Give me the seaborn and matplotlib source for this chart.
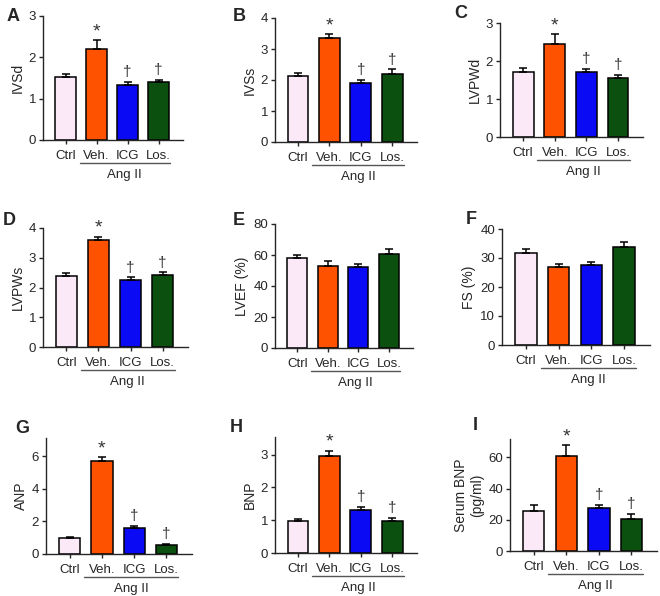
import numpy as np
import pandas as pd
import matplotlib
matplotlib.use("Agg")
import matplotlib.pyplot as plt
import seaborn as sns

###############################################
# data
###############################################
groups = ["Ctrl", "Veh.", "ICG", "Los."]
bar_colors = ["#FCE9F8", "#FF5200", "#0A0AF5", "#0B500E"]

ivsd_mean = [1.52, 2.21, 1.32, 1.40]
ivsd_err = [0.07, 0.20, 0.09, 0.05]

ivss_mean = [2.13, 3.37, 1.90, 2.19]
ivss_err = [0.09, 0.11, 0.10, 0.15]

lvpwd_mean = [1.72, 2.46, 1.72, 1.55]
lvpwd_err = [0.09, 0.24, 0.08, 0.09]

lvpws_mean = [2.39, 3.58, 2.25, 2.43]
lvpws_err = [0.09, 0.13, 0.09, 0.08]

lvef_mean = [57.8, 53.0, 52.2, 60.8]
lvef_err = [2.5, 3.3, 1.7, 2.8]

fs_mean = [31.6, 27.0, 27.6, 33.7]
fs_err = [1.4, 1.0, 0.9, 1.9]

anp_mean = [0.98, 5.72, 1.62, 0.53]
anp_err = [0.08, 0.24, 0.12, 0.08]

bnp_mean = [0.98, 2.95, 1.32, 0.98]
bnp_err = [0.06, 0.17, 0.08, 0.09]

sbnp_mean = [25.5, 60.6, 27.6, 20.8]
sbnp_err = [4.3, 7.3, 1.8, 2.8]

sig_marks = ["", "*", "\u2020", "\u2020"]
no_marks = ["", "", "", ""]

###############################################
# panel setup: (letter, ylabel, mean, err, yticks, ytop, marks, pixel box, letter pos)
# pixel box = x0, x1, ytop_px, ybottom_px in the 660x596 canvas
###############################################
panels = [
    ("A", "IVSd", ivsd_mean, ivsd_err, [0, 1, 2, 3], 3, sig_marks, (43, 183, 16, 140), (7, 8)),
    ("B", "IVSs", ivss_mean, ivss_err, [0, 1, 2, 3, 4], 4, sig_marks, (275, 417, 18, 142), (233, 8)),
    ("C", "LVPWd", lvpwd_mean, lvpwd_err, [0, 1, 2, 3], 3, sig_marks, (500, 643, 23, 137), (454, 5)),
    ("D", "LVPWs", lvpws_mean, lvpws_err, [0, 1, 2, 3, 4], 4, sig_marks, (43, 188, 228, 347), (3, 212)),
    ("E", "LVEF (%)", lvef_mean, lvef_err, [0, 20, 40, 60, 80], 80, no_marks, (275, 413, 224, 348), (233, 212)),
    ("F", "FS (%)", fs_mean, fs_err, [0, 10, 20, 30, 40], 40, no_marks, (502, 650, 229, 345), (466, 211)),
    ("G", "ANP", anp_mean, anp_err, [0, 2, 4, 6], 7.13, sig_marks, (46, 192, 438, 554), (15, 420)),
    ("H", "BNP", bnp_mean, bnp_err, [0, 1, 2, 3], 3.54, sig_marks, (275, 417, 437, 553), (230, 419)),
    ("I", "Serum BNP\n(pg/ml)", sbnp_mean, sbnp_err, [0, 20, 40, 60], 71.8, sig_marks, (510, 657, 439, 551), (473, 417)),
]

W, H = 660, 596

sns.set_style("ticks")
plt.rcParams["font.family"] = ["Liberation Sans", "DejaVu Sans"]
plt.rcParams["axes.linewidth"] = 1.0

fig = plt.figure(figsize=(W / 100, H / 100), dpi=100)

for letter, ylab, mean, err, yticks, ytop, marks, box, lpos in panels:
    x0, x1, yt, yb = box
    ax = fig.add_axes([x0 / W, 1 - yb / H, (x1 - x0) / W, (yb - yt) / H])
    h_px = yb - yt

    df = pd.DataFrame({"group": groups, "value": mean})
    sns.barplot(
        data=df,
        x="group",
        y="value",
        hue="group",
        palette=bar_colors,
        saturation=1,
        width=0.66,
        edgecolor="black",
        linewidth=1.1,
        errorbar=None,
        legend=False,
        ax=ax,
    )
    # upper-only error bars
    xs = np.arange(len(groups))
    ax.errorbar(
        xs,
        mean,
        yerr=[np.zeros(len(err)), err],
        fmt="none",
        ecolor="black",
        elinewidth=1.1,
        capsize=3,
        capthick=1.1,
        zorder=1,
    )

    # significance markers above the error bars
    for xi, m, e, mk in zip(xs, mean, err, marks):
        if mk == "*":
            ax.annotate(mk, xy=(xi, m + e), xytext=(0, 0), textcoords="offset points",
                        ha="center", va="bottom", fontsize=14, color="#333333")
        elif mk:
            ax.annotate(mk, xy=(xi, m + e), xytext=(0, 2), textcoords="offset points",
                        ha="center", va="bottom", fontsize=11, color="#333333")

    ax.set_xlim(-0.73, 3.79)
    ax.set_ylim(0, ytop)
    ax.set_yticks(yticks)
    ax.set_xlabel("")
    ax.set_ylabel(ylab, fontsize=10, labelpad=3)
    ax.tick_params(axis="both", direction="out", length=3, width=1, labelsize=9.5)
    ax.tick_params(axis="x", pad=4)
    ax.tick_params(axis="y", pad=2)
    sns.despine(ax=ax)

    # Ang II bracket line and label
    y_line = -23 / h_px
    ax.plot([0.45, 3.37], [y_line, y_line], color="#555555", lw=1,
            transform=ax.get_xaxis_transform(), clip_on=False)
    ax.text(1.91, -35 / h_px, "Ang II", transform=ax.get_xaxis_transform(),
            ha="center", va="center", fontsize=9.5)

    # panel letter
    fig.text(lpos[0] / W, 1 - lpos[1] / H, letter, fontsize=13, fontweight="bold",
             ha="left", va="top")

fig.savefig("out.png", dpi=100)
plt.close(fig)
